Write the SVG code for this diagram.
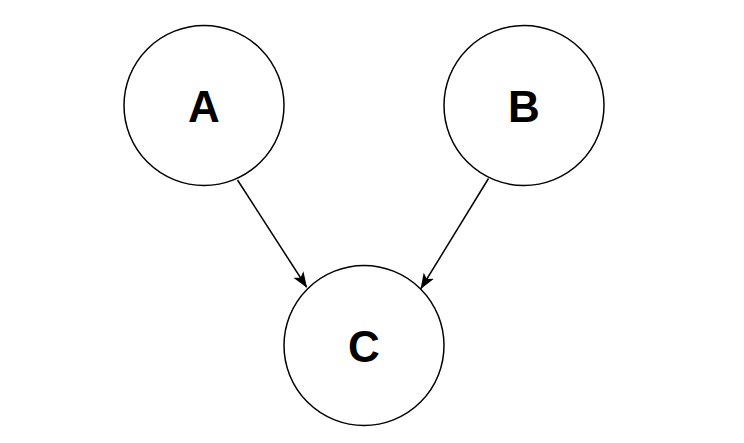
<svg xmlns="http://www.w3.org/2000/svg" width="744" height="443" viewBox="0 0 744 443">
<style>
.node circle{fill:#fff;stroke:#000;stroke-width:1.5}
.node text{font-family:"Liberation Sans",Arial,sans-serif;font-weight:bold;font-size:44px;text-anchor:middle;fill:#000}
.edge{stroke:#000;stroke-width:1.5;fill:none;marker-end:url(#arr)}
</style>
<defs>
<marker id="arr" markerUnits="userSpaceOnUse" viewBox="0 0 16 12" refX="15" refY="6" markerWidth="16" markerHeight="12" orient="auto">
<path d="M0,0 L16,6 L0,12 L4,6 Z" fill="#000"/>
</marker>
</defs>
<rect width="744" height="443" fill="#fff"/>
<g id="connectors">
<line class="edge" x1="237.5" y1="180" x2="306.5" y2="287"/>
<line class="edge" x1="488.5" y1="178.5" x2="421" y2="288.5"/>
</g>
<g id="A" class="node"><circle cx="204" cy="105.5" r="80"/><text x="204" y="121.5">A</text></g>
<g id="B" class="node"><circle cx="524" cy="105.5" r="80"/><text x="524" y="121.5">B</text></g>
<g id="C" class="node"><circle cx="364" cy="345.5" r="80"/><text x="364" y="361.5">C</text></g>
</svg>
